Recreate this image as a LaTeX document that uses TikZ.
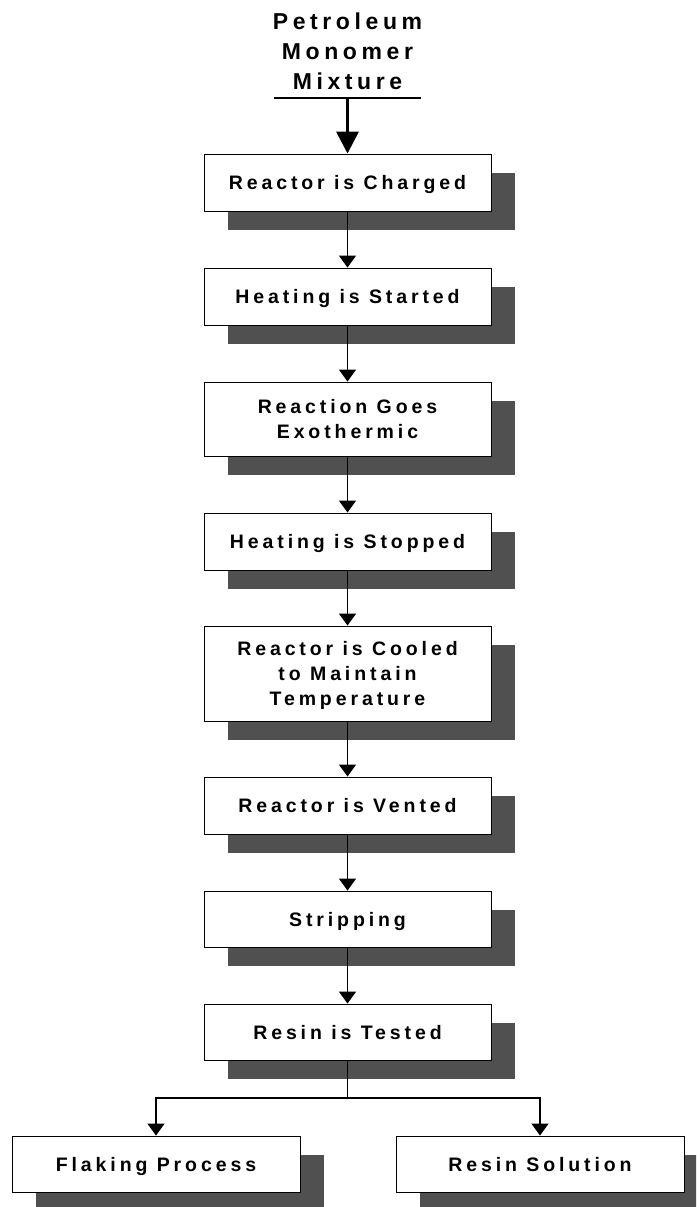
\documentclass[tikz,border=0pt]{standalone}
\usepackage{fontspec}
\usetikzlibrary{arrows.meta,shadows}
\newfontfamily\boxfont{Liberation Sans Bold}[LetterSpace=20]
\definecolor{shadowgray}{RGB}{80,80,80}
\tikzset{
  stepbox/.style={draw=black, line width=0.9pt, fill=white, rectangle,
    minimum width=287pt, inner sep=0pt, align=center,
    font=\boxfont\fontsize{19.5}{25}\selectfont,
    drop shadow={shadow xshift=24pt, shadow yshift=-19pt, fill=shadowgray, opacity=1}},
  oneline/.style={text height=14pt, text depth=0pt},
  conn/.style={line width=1.5pt, -{Triangle[length=12pt,width=17pt]}},
  plain/.style={line width=1.5pt},
  bigconn/.style={line width=3.5pt, -{Triangle[length=22pt,width=22pt]}},
}
\begin{document}
\begin{tikzpicture}[x=1pt,y=-1pt]
\clip (0,0) rectangle (696,1207);
\useasboundingbox (0,0) rectangle (696,1207);

\node[inner sep=0pt, align=center,
  font=\boxfont\fontsize{23}{30}\selectfont] (src) at (347.5,51)
  {Petroleum\\Monomer\\Mixture};
\coordinate (lineL) at (274,98);
\coordinate (lineR) at (421,98);
\coordinate (lineM) at (347.5,98);
\draw[line width=2.5pt] (lineL) -- (lineR);

\node[stepbox, oneline, minimum height=57pt] (charge) at (347.5,182.5) {Reactor is Charged};
\node[stepbox, oneline, minimum height=57pt] (start) at (347.5,296.5) {Heating is Started};
\node[stepbox, minimum height=74pt] (exo) at (347.5,419) {Reaction Goes\\Exothermic};
\node[stepbox, oneline, minimum height=57pt] (stop) at (347.5,541.5) {Heating is Stopped};
\node[stepbox, minimum height=95pt] (cool) at (347.5,673.5) {Reactor is Cooled\\to Maintain\\\smash{Temperature}};
\node[stepbox, oneline, minimum height=57pt] (vent) at (347.5,805.5) {Reactor is Vented};
\node[stepbox, oneline, minimum height=56pt] (strip) at (347.5,919) {Stripping};
\node[stepbox, oneline, minimum height=56pt] (test) at (347.5,1032) {Resin is Tested};
\node[stepbox, oneline, minimum height=56pt, minimum width=288pt] (flake) at (156,1164) {Flaking Process};
\node[stepbox, oneline, minimum height=56pt, minimum width=288pt] (soln) at (540,1164) {Resin Solution};

\draw[bigconn] (lineM) -- (charge.north);
\draw[conn] (charge) -- (start);
\draw[conn] (start) -- (exo);
\draw[conn] (exo) -- (stop);
\draw[conn] (stop) -- (cool);
\draw[conn] (cool) -- (vent);
\draw[conn] (vent) -- (strip);
\draw[conn] (strip) -- (test);
\coordinate (split) at (347.5,1098);
\draw[plain] (test.south) -- (split);
\draw[conn] (split) -| (flake.north);
\draw[conn] (split) -| (soln.north);
\end{tikzpicture}
\end{document}
